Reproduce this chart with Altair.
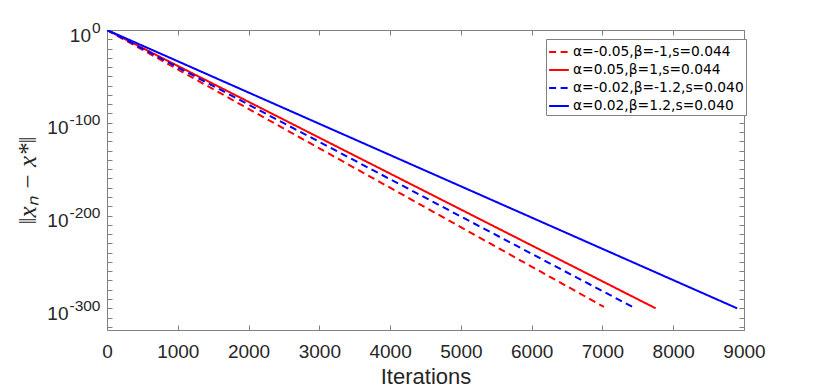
import altair as alt
import pandas as pd

# ---- data ----
series = [
    "α=-0.05,β=-1,s=0.044",
    "α=0.05,β=1,s=0.044",
    "α=-0.02,β=-1.2,s=0.040",
    "α=0.02,β=1.2,s=0.040",
]
colors = ["#ff0000", "#ff0000", "#0000ff", "#0000ff"]
dash_patterns = [[7, 4.5], [1, 0], [7, 4.5], [1, 0]]
start_iter = [0, 0, 0, 0]
start_exp = [0, 0, 0, 0]          # log10 of ||x_n - x*||
end_iter = [7021, 7751, 7449, 8902]
end_exp = [-298.5, -300.0, -299.5, -300.0]

x_tick_values = list(range(0, 9001, 1000))
y_tick_values = list(range(0, -321, -10))
y_major_values = [0, -100, -200, -300]
y_exponent_text = {0: "0", -100: "-100", -200: "-200", -300: "-300"}
x_domain = [0, 9000]
y_domain = [-323.4, 0]

rows = []
for name, x0, y0, x1, y1 in zip(series, start_iter, start_exp, end_iter, end_exp):
    rows.append({"series": name, "iter": x0, "exp": y0})
    rows.append({"series": name, "iter": x1, "exp": y1})
df = pd.DataFrame(rows)

sup_expr = " : ".join(
    f"datum.value == {k} ? '{v}'" for k, v in y_exponent_text.items()
) + " : ''"

xs = alt.Scale(domain=x_domain, nice=False, zero=False)
ys = alt.Scale(domain=y_domain, nice=False, zero=False)

legend = alt.Legend(
    title=None, orient="none", legendX=439, legendY=9,
    strokeColor="#808080", fillColor="white", padding=2,
    labelFontSize=13.8, labelFont="DejaVu Sans", labelColor="black",
    symbolType="stroke", symbolSize=390, symbolStrokeWidth=2,
    rowPadding=-3.5, labelOffset=3, labelLimit=300,
)

base = alt.Chart(df)

lines = base.mark_line(strokeWidth=2, clip=True).encode(
    x=alt.X("iter:Q", scale=xs, axis=alt.Axis(
        orient="bottom", values=x_tick_values, format="d", title="Iterations",
        offset=-5, tickSize=5, domain=False, grid=False, labelPadding=12,
        titlePadding=5, labelFlush=False, labelOverlap=False)),
    y=alt.Y("exp:Q", scale=ys, axis=alt.Axis(
        orient="left", values=y_tick_values, labels=False, title=None,
        offset=-5, tickSize=5, domain=False, grid=False)),
    color=alt.Color("series:N", scale=alt.Scale(domain=series, range=colors), legend=legend),
    strokeDash=alt.StrokeDash("series:N", scale=alt.Scale(domain=series, range=dash_patterns), legend=legend),
)

frame = base.mark_line(strokeOpacity=0).encode(
    x=alt.X("iter:Q", scale=xs, axis=alt.Axis(
        orient="top", values=x_tick_values, labels=False, title=None,
        offset=-5, tickSize=5, domain=False, grid=False)),
    y=alt.Y("exp:Q", scale=ys, axis=alt.Axis(
        orient="right", values=y_tick_values, labels=False, title=None,
        offset=-5, tickSize=5, domain=False, grid=False)),
    detail="series:N",
)

# "10" base of the y labels (two groups: short exponent / long exponent)
base10_zero = base.mark_line(strokeOpacity=0).encode(
    x=alt.X("iter:Q", scale=xs, axis=None),
    y=alt.Y("exp:Q", scale=ys, axis=alt.Axis(
        orient="left", values=[v for v in y_major_values if v == 0],
        labelExpr="'10'", ticks=False, tickSize=0, domain=False, grid=False,
        title=None, labelFontSize=19, labelBaseline="alphabetic",
        labelOffset=11, labelPadding=16.5, labelOverlap=False)),
    detail="series:N",
)
base10_rest = base.mark_line(strokeOpacity=0).encode(
    x=alt.X("iter:Q", scale=xs, axis=None),
    y=alt.Y("exp:Q", scale=ys, axis=alt.Axis(
        orient="left", values=[v for v in y_major_values if v != 0],
        labelExpr="'10'", ticks=False, tickSize=0, domain=False, grid=False,
        title=None, labelFontSize=19, labelBaseline="alphabetic",
        labelOffset=11, labelPadding=39, labelOverlap=False)),
    detail="series:N",
)
# exponents (superscripts) + y-axis title
exponents = base.mark_line(strokeOpacity=0).encode(
    x=alt.X("iter:Q", scale=xs, axis=None),
    y=alt.Y("exp:Q", scale=ys, axis=alt.Axis(
        orient="left", values=y_major_values, labelExpr=sup_expr,
        ticks=False, tickSize=0, domain=False, grid=False,
        labelFontSize=15.5, labelBaseline="alphabetic", labelOffset=2,
        labelPadding=7, labelOverlap=False,
        title="‖xₙ − x*‖", titleFont="Liberation Serif",
        titleFontStyle="italic", titleFontSize=25, titleAngle=270,
        titleAlign="center", titleBaseline="bottom", titleX=-67, titleY=150)),
    detail="series:N",
)

chart = (
    alt.layer(lines, frame, base10_zero, base10_rest, exponents)
    .resolve_axis(x="independent", y="independent")
    .properties(
        width=637, height=300,
        autosize=alt.AutoSizeParams(type="none"),
        padding={"left": 99, "top": 22, "right": 70, "bottom": 61},
    )
    .configure_view(stroke="#808080", strokeWidth=1)
    .configure_axis(
        tickColor="#808080", tickWidth=1, labelColor="#262626", titleColor="#262626",
        labelFont="Liberation Sans", titleFont="Liberation Sans",
        labelFontSize=19, titleFontSize=22, titleFontWeight="normal",
    )
)

chart.save("out.html", embed_options={"renderer": "svg", "actions": False})
